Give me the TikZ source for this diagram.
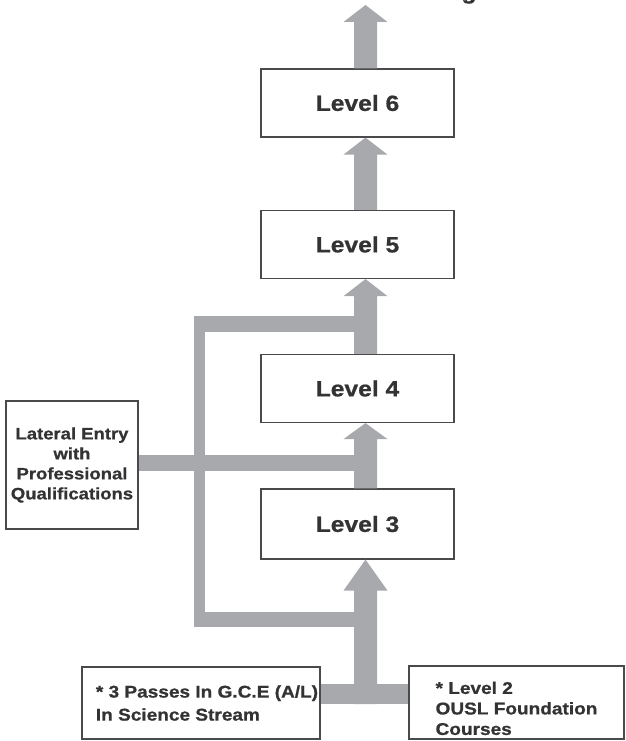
\documentclass[tikz,border=0pt]{standalone}
\usepackage{fontspec}
\setmainfont{Liberation Sans}[FakeStretch=1.12, BoldFeatures={FakeBold=0.8}]
\usetikzlibrary{calc}
\definecolor{barcol}{HTML}{A7A9AC}
\definecolor{edgecol}{HTML}{4A4A4A}
\definecolor{txtcol}{HTML}{333333}
\newcommand{\blockarrow}[3]{%
  \fill[barcol] ($(#1)+(-11.5,0)$) -- ($(#2)+(-11.5,#3)$) -- ($(#2)+(-22,#3)$) -- (#2)
    -- ($(#2)+(22,#3)$) -- ($(#2)+(11.5,#3)$) -- ($(#1)+(11.5,0)$) -- cycle;}
\begin{document}
\begin{tikzpicture}[x=1bp,y=-1bp,
  box/.style={draw=edgecol, line width=1.2bp, fill=white, inner sep=0pt, text=txtcol},
  levelbox/.style={box, minimum width=193bp, minimum height=68bp,
    font=\fontsize{22bp}{26bp}\selectfont\bfseries},
  bar/.style={draw=barcol, line cap=butt}
]
\fill[white] (0,0) rectangle (626,741);
\useasboundingbox (0,0) rectangle (626,741);
% nodes
\node[levelbox] (l6) at (357.5,103) {Level 6};
\node[levelbox] (l5) at (357.5,244.5) {Level 5};
\node[levelbox] (l4) at (357.5,388.5) {Level 4};
\node[levelbox, minimum height=70bp] (l3) at (357.5,524) {Level 3};
\node[box, minimum width=132bp, minimum height=128bp, align=center,
  font=\fontsize{16.5bp}{20bp}\selectfont\bfseries] (lat) at (72,465)
  {Lateral Entry\\with\\Professional\\Qualifications};
\node[box, minimum width=238bp, minimum height=72bp, align=left,
  font=\fontsize{17bp}{23bp}\selectfont\bfseries] (gce) at (201,703)
  {\hspace*{12bp}* 3 Passes In G.C.E (A/L)\\\hspace*{12bp}In Science Stream};
\node[box, minimum width=215bp, minimum height=73bp, align=left,
  font=\fontsize{17bp}{20.5bp}\selectfont\bfseries] (ousl) at (516.5,702.5)
  {\rule{0pt}{24bp}* Level 2\\OUSL Foundation\\Courses};
\node[anchor=base west, inner sep=0pt, text=txtcol,
  font=\fontsize{22bp}{26bp}\selectfont\bfseries] (deg) at (297,-1) {Bachelor's Degree};
% helper coordinates
\coordinate (ax) at (365.5,0);
\coordinate (top) at (365.5,5);
\coordinate (a6b) at (ax |- l6.north);
\coordinate (a5b) at (ax |- l5.north);
\coordinate (a5t) at (ax |- l6.south);
\coordinate (a4b) at (ax |- l4.north);
\coordinate (a4t) at (ax |- l5.south);
\coordinate (a3b) at (ax |- l3.north);
\coordinate (a3t) at (ax |- l4.south);
\coordinate (a2b) at (365.5,704);
\coordinate (a2t) at (ax |- l3.south);
\coordinate (bb) at (0,694);
\coordinate (lt) at (0,463);
\coordinate (tl) at (199.5,324);
\coordinate (bl) at (199.5,619.5);
% bars
\draw[bar, line width=20bp] (gce.east |- bb) -- (ousl.west |- bb);
\draw[bar, line width=16bp] (tl) -- (ax |- tl);
\draw[bar, line width=15bp] (bl) -- (ax |- bl);
\fill[barcol] ($(tl)+(-5.5,-8)$) rectangle ($(bl)+(5.5,7.5)$);
\draw[bar, line width=16bp] (lat.east |- lt) -- (ax |- lt);
% block arrows
\blockarrow{a6b}{top}{17}
\blockarrow{a5b}{a5t}{17}
\blockarrow{a4b}{a4t}{17}
\blockarrow{a3b}{a3t}{16}
\blockarrow{a2b}{a2t}{31}
\end{tikzpicture}
\end{document}
